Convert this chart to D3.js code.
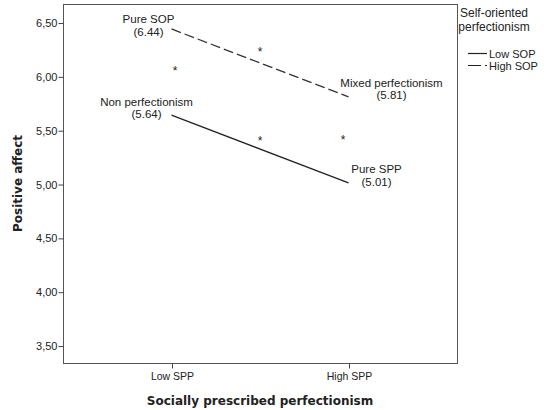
<!DOCTYPE html>
<html>
<head>
<meta charset="utf-8">
<script src="https://cdn.jsdelivr.net/npm/d3@7"></script>
<style>
  body { margin: 0; background: #fff; }
  text { font-family: "Liberation Sans", Arial, sans-serif; fill: #222; }
  .title { font-family: "DejaVu Sans", Verdana, sans-serif; font-weight: bold; font-size: 12px; }
</style>
</head>
<body>
<script>
// data
var sppLevels = ["Low SPP", "High SPP"]
var lowSOP = [5.64, 5.01]
var highSOP = [6.44, 5.81]
var lowSOPNames = ["Non perfectionism", "Pure SPP"]
var highSOPNames = ["Pure SOP", "Mixed perfectionism"]
var yTicks = [3.5, 4.0, 4.5, 5.0, 5.5, 6.0, 6.5]
// significance marks: t = position between the two SPP levels, v = affect value
var starT = [0.02, 0.5, 0.5, 0.97]
var starV = [6.08, 6.25, 5.43, 5.44]

var W = 544, H = 410
var m = { left: 63, top: 4, right: 457, bottom: 363 }

var svg = d3.select("body").append("svg")
  .attr("width", W)
  .attr("height", H)

var x = d3.scalePoint().domain(sppLevels).range([m.left, m.right]).padding(0.613)
var y = d3.scaleLinear().domain([3.338, 6.672]).range([m.bottom, m.top])
var loc = d3.formatLocale({ decimal: ",", thousands: ".", grouping: [3], currency: ["", ""] })
var fmt = loc.format(".2f")

// frame
svg.append("rect")
  .attr("x", m.left + 0.5).attr("y", m.top + 0.5)
  .attr("width", m.right - m.left).attr("height", m.bottom - m.top)
  .style("fill", "none").style("stroke", "#555").style("stroke-width", 1)

var yAxis = svg.append("g")
  .attr("transform", "translate(" + (m.left + 0.5) + ",0.5)")
  .call(d3.axisLeft(y).tickValues(yTicks).tickFormat(fmt).tickSize(5).tickSizeOuter(0))
yAxis.select(".domain").remove()
yAxis.selectAll("line").style("stroke", "#444")
yAxis.selectAll("text").style("font-size", "11px").attr("x", -6).style("fill", "#222")

var xAxis = svg.append("g")
  .attr("transform", "translate(0.5," + (m.bottom + 0.5) + ")")
  .call(d3.axisBottom(x).tickSize(5).tickSizeOuter(0))
xAxis.select(".domain").remove()
xAxis.selectAll("line").style("stroke", "#444")
xAxis.selectAll("text").style("font-size", "10.5px").attr("y", 9).style("fill", "#222")

// axis titles
svg.append("text").attr("class", "title")
  .attr("x", (m.left + m.right) / 2).attr("y", 405)
  .attr("text-anchor", "middle")
  .text("Socially prescribed perfectionism")
svg.append("text").attr("class", "title")
  .attr("transform", "translate(22," + ((m.top + m.bottom) / 2) + ") rotate(-90)")
  .attr("text-anchor", "middle")
  .text("Positive affect")

// lines
var line = d3.line().x(function(d, i){ return x(sppLevels[i]) }).y(function(d){ return y(d) })
svg.append("path").datum(lowSOP).attr("d", line)
  .style("fill", "none").style("stroke", "#222").style("stroke-width", 1.3)
svg.append("path").datum(highSOP).attr("d", line)
  .style("fill", "none").style("stroke", "#333").style("stroke-width", 1.3)
  .style("stroke-dasharray", "10,4")

// point labels
var offsets = {
  "Non perfectionism": [-25, -9, 3],
  "Pure SPP": [28, -10, 3],
  "Pure SOP": [-23, -6, 7],
  "Mixed perfectionism": [43, -10, 2]
}
function addLabels(vals, names){
  vals.forEach(function(v, i){
    var o = offsets[names[i]]
    var px = x(sppLevels[i]) + o[0], py = y(v)
    svg.append("text").attr("text-anchor", "middle").style("font-size", "11.5px")
      .attr("x", px).attr("y", py + o[1]).text(names[i])
    svg.append("text").attr("text-anchor", "middle").style("font-size", "11.5px")
      .attr("x", px).attr("y", py + o[2]).text("(" + v.toFixed(2) + ")")
  })
}
addLabels(lowSOP, lowSOPNames)
addLabels(highSOP, highSOPNames)

// asterisks
var x0 = x(sppLevels[0]), x1 = x(sppLevels[1])
svg.selectAll(".star").data(starT).enter().append("text")
  .attr("class", "star")
  .attr("x", function(d){ return x0 + d * (x1 - x0) })
  .attr("y", function(d, i){ return y(starV[i]) + 7 })
  .attr("text-anchor", "middle")
  .style("font-size", "12px")
  .text("*")

// legend
var lg = svg.append("g")
lg.append("text").attr("x", 494).attr("y", 17).attr("text-anchor", "middle").style("font-size", "12px").text("Self-oriented")
lg.append("text").attr("x", 494).attr("y", 31).attr("text-anchor", "middle").style("font-size", "12px").text("perfectionism")
var items = [{ name: "Low SOP", dash: null }, { name: "High SOP", dash: "13,4" }]
items.forEach(function(d, i){
  var yy = 53.5 + i * 12
  lg.append("line").attr("x1", 468).attr("x2", 487).attr("y1", yy).attr("y2", yy)
    .style("stroke", "#222").style("stroke-width", 1.2)
    .style("stroke-dasharray", d.dash)
  lg.append("text").attr("x", 489).attr("y", yy + 4).style("font-size", "11px").text(d.name)
})
</script>
</body>
</html>
